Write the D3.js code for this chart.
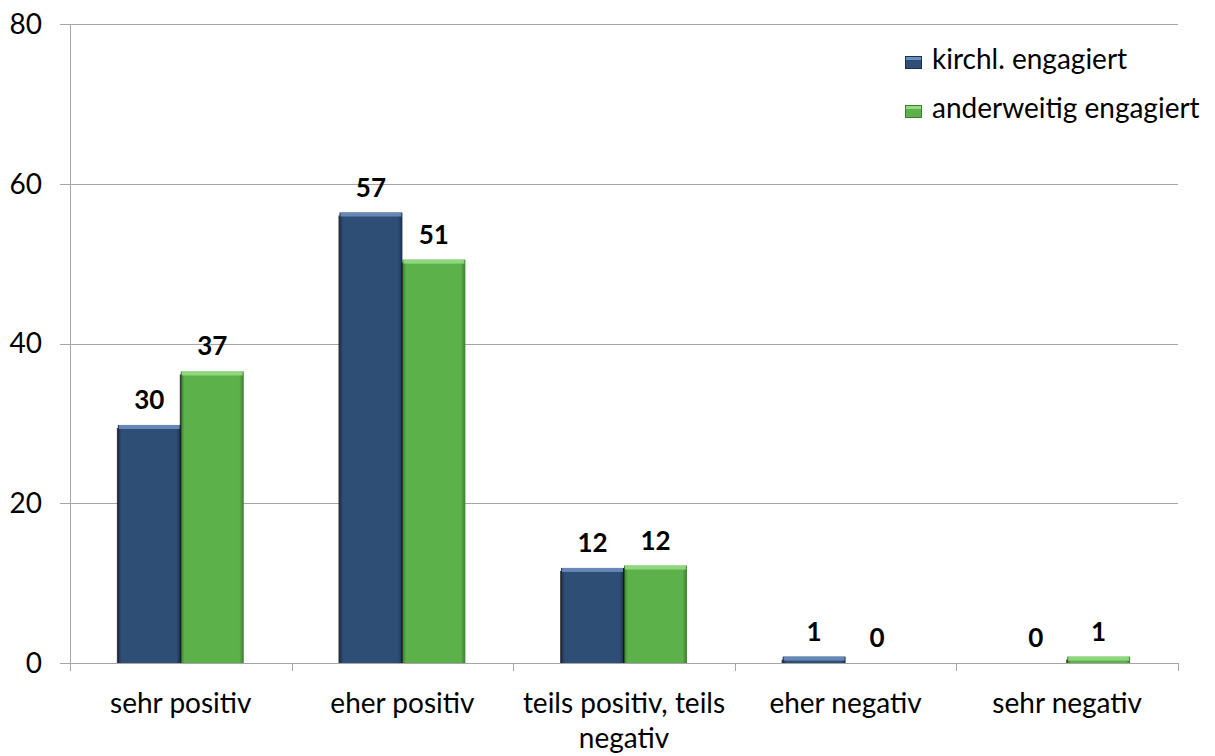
<!DOCTYPE html>
<html><head><meta charset="utf-8">
<script src="https://cdn.jsdelivr.net/npm/d3@7/dist/d3.min.js"></script>
<style>body{margin:0;background:#fff;}svg{display:block;font-family:Lato,"Open Sans",sans-serif;}</style>
</head><body>
<svg id="chart" width="1215" height="756"></svg>
<script>
const categories = ["sehr positiv", "eher positiv", "teils positiv, teils negativ", "eher negativ", "sehr negativ"];
const categoryLines = [["sehr positiv"], ["eher positiv"], ["teils positiv, teils", "negativ"], ["eher negativ"], ["sehr negativ"]];
const seriesNames = ["kirchl. engagiert", "anderweitig engagiert"];
const kirchlValues = [29.8, 56.4, 11.9, 0.8, 0];
const anderweitigValues = [36.5, 50.5, 12.2, 0, 0.8];
const kirchlLabels = ["30", "57", "12", "1", "0"];
const anderweitigLabels = ["37", "51", "12", "0", "1"];
const yTicks = [0, 20, 40, 60, 80];

(function () {
const svg = d3.select("#chart");
const mLeft = 70, mRight = 1178, mTop = 24, mBottom = 663;
const x = d3.scaleBand().domain(categories).range([mLeft, mRight]).paddingInner(0).paddingOuter(0);
const y = d3.scaleLinear().domain([0, 80]).range([mBottom, mTop]);
const groupPad = 0.216;

const colors = {
  "kirchl. engagiert": {base:"#2f4e76", top:"#6d8fbf", dark:"#1b3050"},
  "anderweitig engagiert": {base:"#5cb14a", top:"#94dc82", dark:"#3a7f2c"}
};
const defs = svg.append("defs");
seriesNames.forEach((s, i) => {
  const c = colors[s];
  const g = defs.append("linearGradient").attr("id", "grad" + i).attr("x1", 0).attr("x2", 1).attr("y1", 0).attr("y2", 0);
  g.append("stop").attr("offset", "0%").attr("stop-color", c.dark);
  g.append("stop").attr("offset", "6%").attr("stop-color", c.base);
  g.append("stop").attr("offset", "93%").attr("stop-color", c.base);
  g.append("stop").attr("offset", "100%").attr("stop-color", c.dark);
});

// gridlines
svg.append("g").selectAll("line").data(yTicks).join("line")
  .attr("x1", mLeft - 10).attr("x2", mRight).attr("y1", d => Math.round(y(d)) + 0.5).attr("y2", d => Math.round(y(d)) + 0.5)
  .attr("stroke", "#a6a6a6").attr("stroke-width", 1);
// y axis line
svg.append("line").attr("x1", mLeft + 0.5).attr("x2", mLeft + 0.5).attr("y1", mTop).attr("y2", mBottom + 8)
  .attr("stroke", "#a6a6a6");
// y tick labels
svg.append("g").selectAll("text").data(yTicks).join("text")
  .attr("x", 42).attr("y", d => y(d)).attr("dy", "0.35em").attr("text-anchor", "end")
  .attr("font-size", 28).attr("fill", "#000").text(d => d);
// x ticks
const boundaries = categories.map(c => x(c)).concat([mRight]);
svg.append("g").selectAll("line").data(boundaries).join("line")
  .attr("x1", d => Math.round(d) + 0.5).attr("x2", d => Math.round(d) + 0.5).attr("y1", mBottom).attr("y2", mBottom + 8)
  .attr("stroke", "#a6a6a6");

const seriesData = [kirchlValues, anderweitigValues];
const seriesLabels = [kirchlLabels, anderweitigLabels];
const gap = x.bandwidth() * groupPad;
const bw = (x.bandwidth() - 2 * gap) / 2;
seriesNames.forEach((s, si) => {
  const c = colors[s];
  const g = svg.append("g");
  const data = categories.map((cat, i) => ({cat, v: seriesData[si][i], label: seriesLabels[si][i]}));
  const bx = d => x(d.cat) + gap + si * bw;
  const bars = data.filter(d => d.v > 0);
  g.selectAll("rect.bar").data(bars).join("rect").attr("class", "bar")
    .attr("x", bx).attr("width", bw)
    .attr("y", d => y(d.v)).attr("height", d => y(0) - y(d.v))
    .attr("fill", "url(#grad" + si + ")");
  g.selectAll("rect.top").data(bars).join("rect").attr("class", "top")
    .attr("x", d => bx(d) + 1).attr("width", bw - 2)
    .attr("y", d => y(d.v)).attr("height", d => Math.min(4, y(0) - y(d.v)))
    .attr("fill", c.top).attr("opacity", 0.9);
  g.selectAll("rect.edge").data(bars).join("rect").attr("class", "edge")
    .attr("x", d => bx(d) - 1).attr("width", 1.5)
    .attr("y", d => y(d.v) + 3).attr("height", d => Math.max(0, y(0) - y(d.v) - 3))
    .attr("fill", "#111").attr("opacity", 0.8);
  g.selectAll("text").data(data).join("text")
    .attr("x", d => bx(d) + bw / 2).attr("y", d => y(d.v) - 16)
    .attr("text-anchor", "middle").attr("font-size", 26).attr("font-weight", "bold")
    .attr("fill", "#000").text(d => d.label);
});

// category labels
categoryLines.forEach((lines, i) => {
  const cx = x(categories[i]) + x.bandwidth() / 2;
  const t = svg.append("text").attr("x", cx).attr("y", 713)
    .attr("text-anchor", "middle").attr("font-size", 28).attr("fill", "#000");
  lines.forEach((l, j) => t.append("tspan").attr("x", cx).attr("dy", j === 0 ? 0 : 35).text(l));
});

// legend
const lg = svg.append("g");
seriesNames.forEach((s, i) => {
  const c = colors[s];
  const base = 69 + i * 49;
  lg.append("rect").attr("x", 905.5).attr("y", base - 12.5).attr("width", 16).attr("height", 12)
    .attr("fill", c.base).attr("stroke", c.dark).attr("stroke-width", 1);
  lg.append("rect").attr("x", 906).attr("y", base - 12).attr("width", 15).attr("height", 3).attr("fill", c.top);
  lg.append("text").attr("x", 932).attr("y", base).attr("font-size", 28)
    .attr("fill", "#000").text(s);
});
})();
</script>
</body></html>
